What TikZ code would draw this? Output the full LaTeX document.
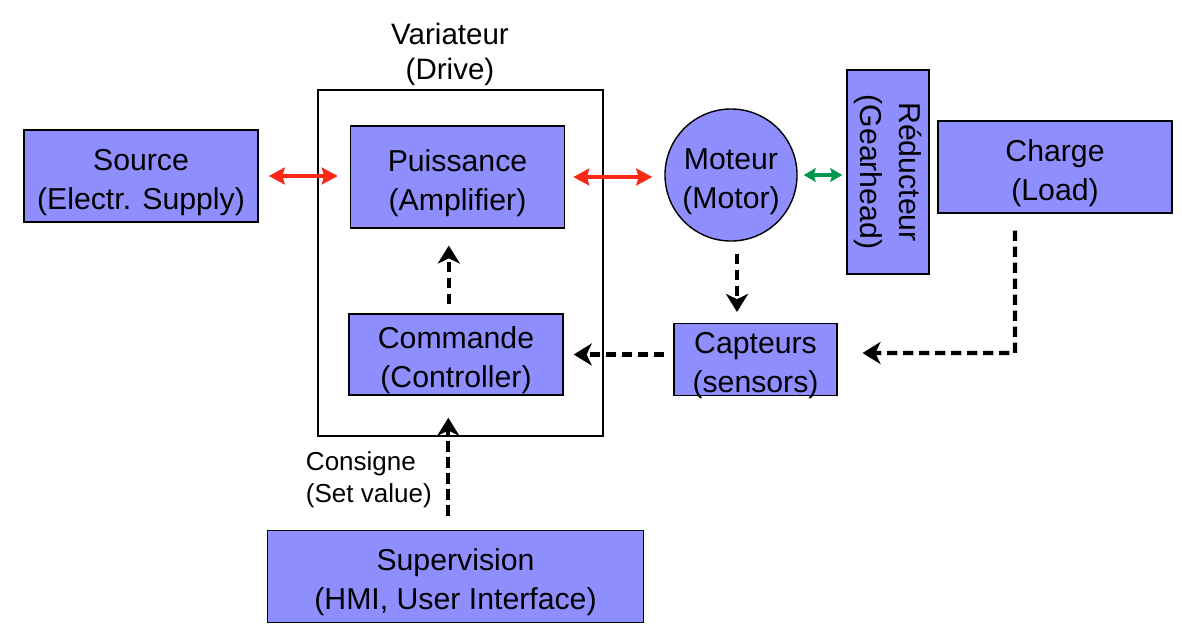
\documentclass[tikz,border=0pt]{standalone}
\usepackage{fontspec}
\setmainfont{Liberation Sans}
\usepackage{graphicx}
\usetikzlibrary{arrows.meta}
\definecolor{blockblue}{RGB}{142,142,255}
\definecolor{powerred}{RGB}{250,40,20}
\definecolor{mechgreen}{RGB}{0,150,80}
\begin{document}
\begin{tikzpicture}[x=0.025cm, y=-0.025cm]

      \tikzset{block/.style={draw, line width=1pt, fill=blockblue, align=center, inner sep=0pt,
                 font=\fontsize{21.5}{27.5}\selectfont},
               twoline/.style={block, text height=47pt, text depth=0pt},
               power/.style={line width=2.8pt, powerred, {Stealth[length=0.4cm,width=0.42cm,inset=0.06cm]}-{Stealth[length=0.4cm,width=0.42cm,inset=0.06cm]}},
               shaft/.style={line width=2.8pt, mechgreen, {Stealth[length=0.3cm,width=0.34cm,inset=0.05cm]}-{Stealth[length=0.3cm,width=0.34cm,inset=0.05cm]}},
               signal/.style={line width=3pt, dash pattern=on 0.26cm off 0.14cm, -{Stealth[length=0.45cm,width=0.55cm,inset=0.13cm]}}}
      \useasboundingbox (0,0) rectangle (1182,641);
%% Blocks
      	\node[draw, line width=0.9pt, minimum width=7.125cm, minimum height=8.65cm] (drive) at (460.5,263) {};
      	\node[align=center, font=\fontsize{21}{25}\selectfont] (drivelabel) at (450,54) {Variateur\\(Drive)};
      	\node[twoline, minimum width=5.85cm, minimum height=2.3cm] (source) at (141,176) {Source\\(Electr. Supply)};
      	\node[twoline, minimum width=5.35cm, minimum height=2.55cm] (puis) at (457.5,177) {Puissance\\(Amplifier)};
      	\node[twoline, minimum width=5.35cm, minimum height=2.025cm] (cmd) at (456,354.5) {Commande\\(Controller)};
      	\node[twoline, circle, minimum size=3.3cm] (motor) at (731,175) {Moteur\\(Motor)};
      	\node[block, minimum width=2.05cm, minimum height=5.1cm] (red) at (888,172)
      	     {\rotatebox{-90}{\begin{tabular}{@{}c@{}}R\'educteur\\(Gearhead)\end{tabular}}};
      	\node[twoline, minimum width=5.85cm, minimum height=2.3cm] (load) at (1055,167) {Charge\\(Load)};
      	\node[twoline, minimum width=4.075cm, minimum height=1.8cm] (capt) at (755.5,359.5) {Capteurs\\(sensors)};
      	\node[twoline, minimum width=9.4cm, minimum height=2.3cm] (sup) at (455.5,576.5) {Supervision\\(HMI, User Interface)};
      	\node[anchor=west, align=left, font=\fontsize{18.5}{22.5}\selectfont] (setval) at (301,480) {Consigne\\(Set value)};
      	\coordinate (bend) at (1015,353);
%Arrows
		\path[power, shorten <=0.25cm, shorten >=0.3cm] (source.east) edge (source.east -| puis.west);
		\path[power, shorten <=0.2cm, shorten >=0.3cm] (puis.east) edge (puis.east -| motor.west);
		\path[shaft, shorten <=0.15cm, shorten >=0.1cm] (motor.east) edge (motor.east -| red.west);
		\path[signal, shorten <=0.22cm, shorten >=0.42cm] ([xshift=-0.18cm]cmd.north) edge ([xshift=-0.18cm]cmd.north |- puis.south);
		\path[signal, shorten <=0.3cm, shorten >=0.27cm] ([xshift=0.15cm]motor.south) edge ([xshift=0.15cm]motor.south |- capt.north);
		\path[signal, shorten <=0.22cm, shorten >=0.25cm] (capt.west |- cmd.east) edge (cmd.east);
		\draw[signal, shorten <=0.42cm, shorten >=0.62cm] ([xshift=-1cm]load.south) -- (bend) -- (bend -| capt.east);
		\path[signal, shorten <=0.35cm, shorten >=0.55cm] ([xshift=-0.18cm]sup.north) edge ([xshift=-0.18cm]sup.north |- cmd.south);

	\end{tikzpicture}
\end{document}
